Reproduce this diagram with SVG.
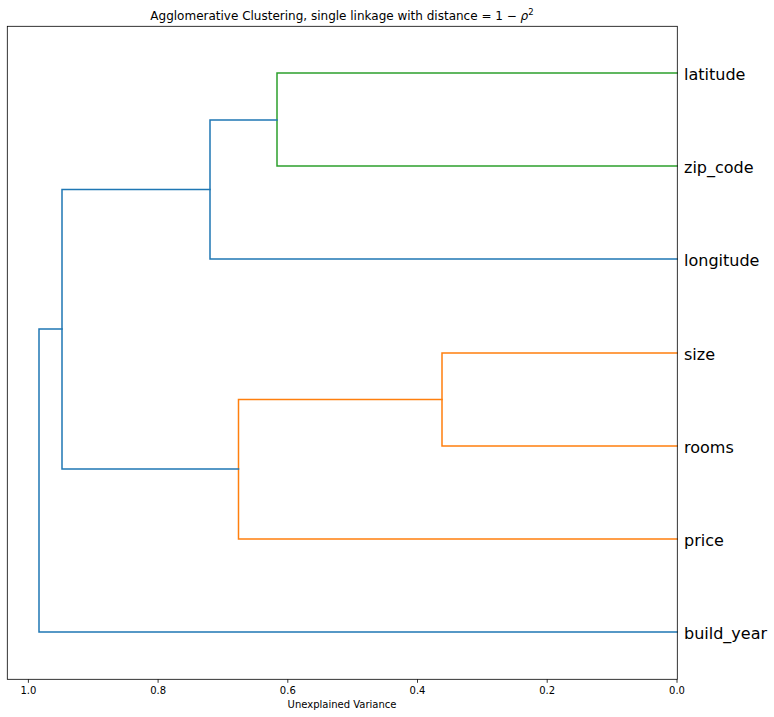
<svg xmlns="http://www.w3.org/2000/svg" width="774" height="717" viewBox="0 0 774 717">
<style>
.link{fill:none;stroke-width:1.5;stroke-linejoin:miter;stroke-linecap:square}
.c0{stroke:#1f77b4}.c1{stroke:#ff7f0e}.c2{stroke:#2ca02c}
.leaf{font-family:"DejaVu Sans",sans-serif;font-size:16px;fill:#000}
.tick{font-family:"DejaVu Sans",sans-serif;font-size:10px;fill:#000;text-anchor:middle}
.tickmark{stroke:#000;stroke-width:0.8}
</style>
<rect x="0" y="0" width="774" height="717" fill="#fff"/>
<g id="connectors">
<path class="link c2" d="M677 73 H277 V166 H677"/>
<path class="link c0" d="M277 120 H210 V259 H677"/>
<path class="link c1" d="M677 353 H442 V446 H677"/>
<path class="link c1" d="M442 399.5 H238.5 V539 H677"/>
<path class="link c0" d="M210 189.5 H62 V469 H238.5"/>
<path class="link c0" d="M62 329 H39 V632 H677"/>
</g>
<rect id="axes-frame" x="7.3" y="26.3" width="670" height="653" fill="none" stroke="#000" stroke-width="0.8"/>
<g id="x-axis">
<line class="tickmark" x1="28.4" y1="679.3" x2="28.4" y2="682.8"/>
<line class="tickmark" x1="158.1" y1="679.3" x2="158.1" y2="682.8"/>
<line class="tickmark" x1="287.8" y1="679.3" x2="287.8" y2="682.8"/>
<line class="tickmark" x1="417.5" y1="679.3" x2="417.5" y2="682.8"/>
<line class="tickmark" x1="547.2" y1="679.3" x2="547.2" y2="682.8"/>
<line class="tickmark" x1="677" y1="679.3" x2="677" y2="682.8"/>
<text class="tick" x="28.4" y="693.5">1.0</text>
<text class="tick" x="158.1" y="693.5">0.8</text>
<text class="tick" x="287.8" y="693.5">0.6</text>
<text class="tick" x="417.5" y="693.5">0.4</text>
<text class="tick" x="547.2" y="693.5">0.2</text>
<text class="tick" x="677" y="693.5">0.0</text>
<text class="tick" x="342" y="708">Unexplained Variance</text>
</g>
<g id="leaf-latitude"><text class="leaf" x="684" y="80">latitude</text></g>
<g id="leaf-zip_code"><text class="leaf" x="684" y="173">zip_code</text></g>
<g id="leaf-longitude"><text class="leaf" x="684" y="266">longitude</text></g>
<g id="leaf-size"><text class="leaf" x="684" y="360">size</text></g>
<g id="leaf-rooms"><text class="leaf" x="684" y="453">rooms</text></g>
<g id="leaf-price"><text class="leaf" x="684" y="546">price</text></g>
<g id="leaf-build_year"><text class="leaf" x="684" y="639">build_year</text></g>
<text id="title" x="342" y="19.5" font-family="DejaVu Sans, sans-serif" font-size="12" text-anchor="middle" fill="#000">Agglomerative Clustering, single linkage with distance = 1 − <tspan font-style="italic">ρ</tspan><tspan font-size="8.5" dy="-4.5">2</tspan></text>
</svg>
